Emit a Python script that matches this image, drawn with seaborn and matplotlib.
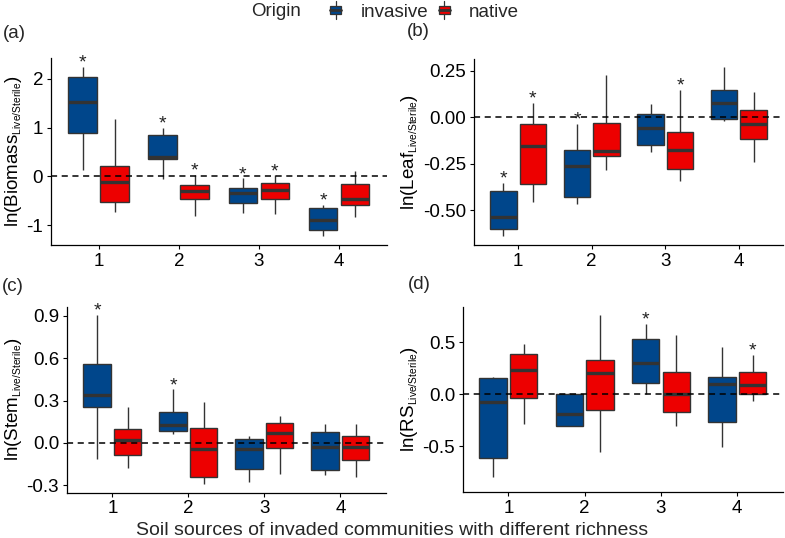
import numpy as np
import pandas as pd
import matplotlib
matplotlib.use('Agg')
import matplotlib.pyplot as plt
import matplotlib._mathtext as mathtext_core
from matplotlib.patches import Rectangle, Patch
from matplotlib.lines import Line2D
from matplotlib.legend_handler import HandlerBase
import seaborn as sns

sns.set_theme(style='ticks')
plt.rcParams['font.family'] = ['Liberation Sans', 'DejaVu Sans']
plt.rcParams['mathtext.fontset'] = 'custom'
plt.rcParams['mathtext.rm'] = 'Liberation Sans'
plt.rcParams['mathtext.it'] = 'Liberation Sans:italic'
plt.rcParams['axes.unicode_minus'] = False
# smaller subscripts, like the plotmath labels of the original
mathtext_core.SHRINK_FACTOR = 0.55

soil = ['1', '2', '3', '4']
origins = ['invasive', 'native']
colors = {'invasive': '#00468B', 'native': '#ED0000'}

# five-number summaries per soil source: min, Q1, median, Q3, max
biomass_invasive = [[0.14, 0.90, 1.53, 2.03, 2.24], [-0.06, 0.35, 0.40, 0.85, 0.99],
                    [-0.76, -0.55, -0.34, -0.23, -0.04], [-1.23, -1.10, -0.90, -0.64, -0.59]]
biomass_native = [[-0.73, -0.53, -0.11, 0.21, 1.17], [-0.82, -0.47, -0.30, -0.18, 0.03],
                  [-0.78, -0.47, -0.28, -0.14, 0.02], [-0.83, -0.58, -0.47, -0.15, 0.10]]
leaf_invasive = [[-0.638, -0.602, -0.536, -0.396, -0.352], [-0.466, -0.43, -0.26, -0.176, -0.036],
                 [-0.185, -0.147, -0.056, 0.018, 0.07], [-0.018, -0.011, 0.078, 0.147, 0.267]]
leaf_native = [[-0.457, -0.357, -0.153, -0.034, 0.075], [-0.283, -0.206, -0.18, -0.029, 0.227],
               [-0.341, -0.278, -0.176, -0.077, 0.147], [-0.239, -0.118, -0.036, 0.036, 0.136]]
stem_invasive = [[-0.115, 0.255, 0.34, 0.557, 0.906], [0.061, 0.087, 0.13, 0.222, 0.38],
                 [-0.278, -0.184, -0.045, 0.028, 0.052], [-0.229, -0.193, -0.028, 0.078, 0.134]]
stem_native = [[-0.175, -0.087, 0.021, 0.097, 0.257], [-0.29, -0.243, -0.04, 0.106, 0.292],
               [-0.219, -0.033, 0.073, 0.142, 0.191], [-0.238, -0.12, -0.03, 0.047, 0.137]]
rs_invasive = [[-0.795, -0.62, -0.08, 0.15, 0.16], [-0.31, -0.31, -0.19, 0.0, 0.013],
               [0.005, 0.11, 0.30, 0.53, 0.675], [-0.505, -0.27, 0.10, 0.167, 0.45]]
rs_native = [[-0.29, -0.035, 0.23, 0.385, 0.48], [-0.56, -0.155, 0.20, 0.327, 0.76],
             [-0.31, -0.17, 0.005, 0.21, 0.567], [-0.07, 0.005, 0.09, 0.21, 0.375]]

# significance stars (invasive, native) per soil source
biomass_stars = [[1, 0], [1, 1], [1, 1], [1, 0]]
leaf_stars = [[1, 1], [1, 0], [0, 1], [0, 0]]
stem_stars = [[1, 0], [1, 0], [0, 0], [0, 0]]
rs_stars = [[0, 0], [0, 0], [1, 0], [0, 1]]

panels = [
    ('(a)', 'Biomass', biomass_invasive, biomass_native, biomass_stars,
     [-1, 0, 1, 2], ['-1', '0', '1', '2'], (-1.41, 2.43)),
    ('(b)', 'Leaf', leaf_invasive, leaf_native, leaf_stars,
     [-0.5, -0.25, 0, 0.25], ['-0.50', '-0.25', '0.00', '0.25'], (-0.687, 0.312)),
    ('(c)', 'Stem', stem_invasive, stem_native, stem_stars,
     [-0.3, 0, 0.3, 0.6, 0.9], ['-0.3', '0.0', '0.3', '0.6', '0.9'], (-0.352, 0.965)),
    ('(d)', 'RS', rs_invasive, rs_native, rs_stars,
     [-0.5, 0, 0.5], ['-0.5', '0.0', '0.5'], (-0.945, 0.84)),
]

positions = [
    [0.0646, 0.5446, 0.4285, 0.3476],
    [0.6038, 0.5446, 0.3937, 0.3455],
    [0.0850, 0.0842, 0.4067, 0.3457],
    [0.5894, 0.0850, 0.4081, 0.3449],
]
label_pos = [(0.004, 0.937), (0.518, 0.942), (0.002, 0.468), (0.519, 0.472)]

fig = plt.figure(figsize=(7.85, 5.38), dpi=100)
edge = '#333333'

for (tag, name, inv, nat, stars, yt, ytl, ylim), pos, lp in zip(panels, positions, label_pos):
    ax = fig.add_axes(pos)
    rows = []
    for i, s in enumerate(soil):
        for v in inv[i]:
            rows.append((s, 'invasive', v))
        for v in nat[i]:
            rows.append((s, 'native', v))
    df = pd.DataFrame(rows, columns=['soil', 'origin', 'value'])
    sns.boxplot(data=df, x='soil', y='value', hue='origin', order=soil, hue_order=origins,
                palette=colors, whis=np.inf, width=0.8, gap=0.1, linecolor=edge,
                linewidth=1.0, showcaps=False, saturation=1,
                medianprops={'linewidth': 2.4, 'color': edge}, legend=False, ax=ax)
    ax.axhline(0, ls=(0, (4, 3)), color='black', lw=1.1, zorder=5)
    for i in range(len(soil)):
        for j, grp in enumerate([inv, nat]):
            if stars[i][j]:
                ax.annotate('*', (i + (-0.2 if j == 0 else 0.2), grp[i][4]),
                            xytext=(0, -0.5), textcoords='offset points',
                            ha='center', va='baseline', fontsize=14, color='#222222')
    ax.set_xlim(-0.6, 3.6)
    ax.set_ylim(*ylim)
    ax.set_yticks(yt)
    ax.set_yticklabels(ytl)
    ax.set_xlabel('')
    ax.set_ylabel(r'ln(' + name + r'$_{\mathrm{Live/Sterile}}$)', fontsize=13.5,
                  color='black', labelpad=2)
    ax.tick_params(labelsize=13.5, colors='black', length=3, width=0.8, pad=2.5)
    sns.despine(ax=ax)
    for sp in ['left', 'bottom']:
        ax.spines[sp].set_color('black')
        ax.spines[sp].set_linewidth(0.9)
    fig.text(lp[0], lp[1], tag, fontsize=13.5, ha='left', va='center')

fig.text(0.5, 0.0056, 'Soil sources of invaded communities with different richness',
         ha='center', va='baseline', fontsize=14)


class BoxKey(HandlerBase):
    def create_artists(self, legend, orig, xd, yd, w, h, fontsize, trans):
        x0, y0 = -xd, -yd
        box = Rectangle((x0, y0 + 0.2 * h), w, 0.6 * h, fc=orig.get_facecolor(),
                        ec=edge, lw=0.9, transform=trans)
        mid = Line2D([x0, x0 + w], [y0 + h / 2] * 2, color=edge, lw=2, transform=trans)
        wt = Line2D([x0 + w / 2] * 2, [y0 + 0.8 * h, y0 + 1.15 * h], color=edge, lw=0.9, transform=trans)
        wb = Line2D([x0 + w / 2] * 2, [y0 - 0.15 * h, y0 + 0.2 * h], color=edge, lw=0.9, transform=trans)
        return [wt, wb, box, mid]


handles = [Patch(facecolor=colors[o]) for o in origins]
fig.text(0.3521, 0.978, 'Origin', fontsize=13.5, ha='center', va='center')
fig.legend(handles, origins, loc='center', bbox_to_anchor=(0.5412, 0.978), ncol=2,
           frameon=False, fontsize=13.5, handlelength=0.55, handleheight=0.8,
           handletextpad=1.05, columnspacing=0.6,
           handler_map={Patch: BoxKey()})

fig.savefig('out.png', dpi=100)
